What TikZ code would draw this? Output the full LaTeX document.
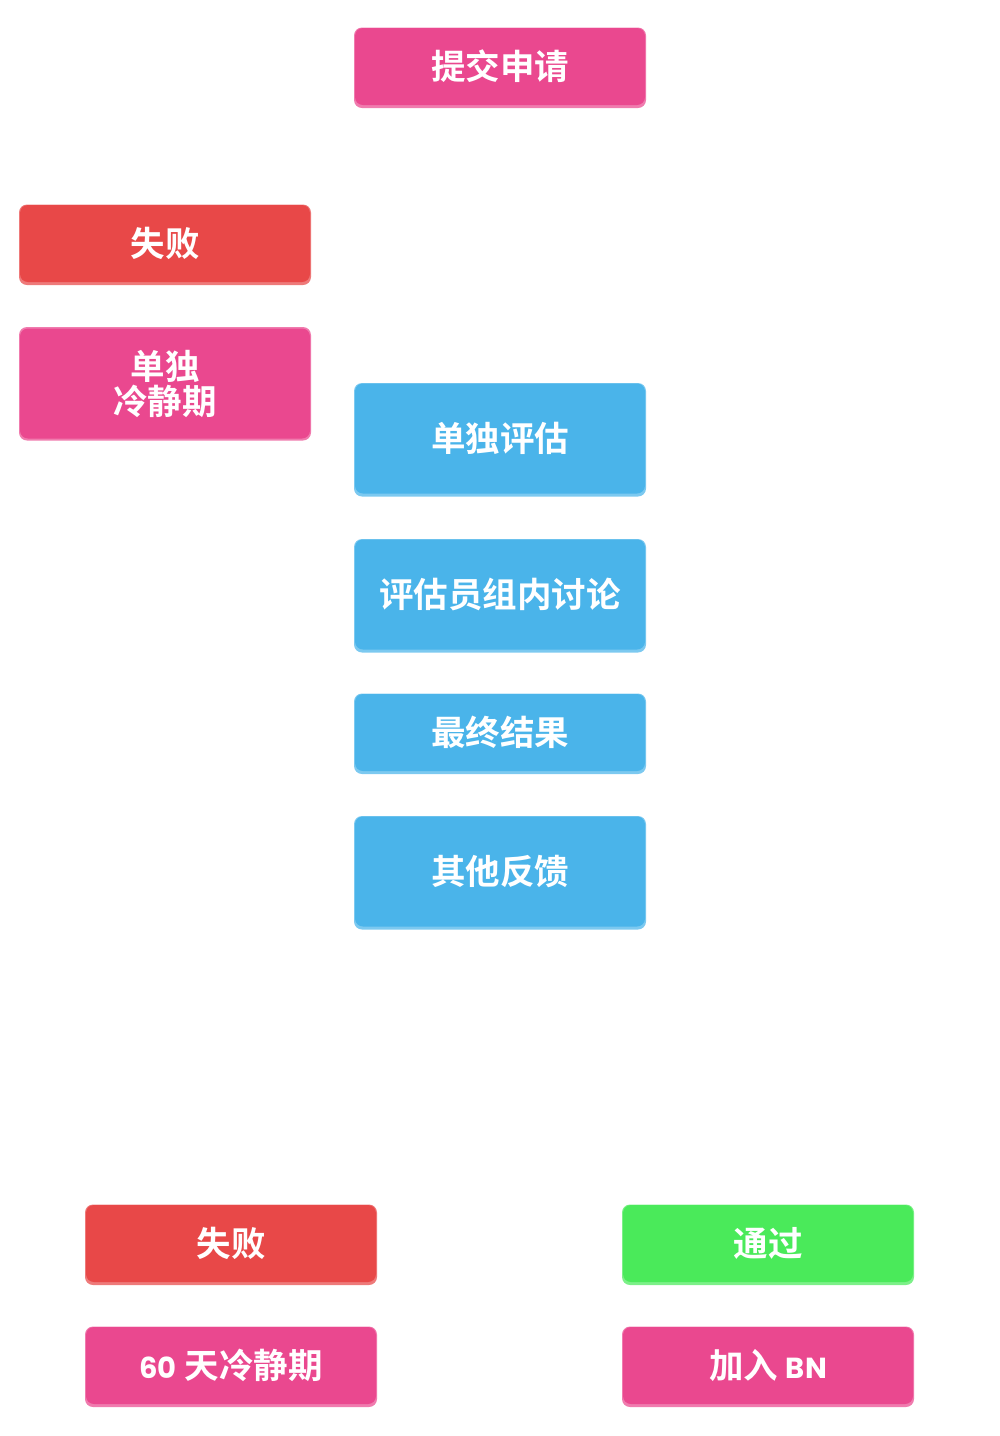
\documentclass[tikz,border=0pt]{standalone}
\usepackage{fontspec}
\setmainfont{Noto Sans CJK SC}[BoldFont=* Bold]
\newfontfamily\latfont{Poppins}[BoldFont=* Bold]
\definecolor{pinkc}{HTML}{EA488F}
\definecolor{pinkl}{HTML}{F07BAE}
\definecolor{redc}{HTML}{E84848}
\definecolor{redl}{HTML}{EE7A7A}
\definecolor{bluec}{HTML}{4AB4EA}
\definecolor{bluel}{HTML}{7CC9F0}
\definecolor{greenc}{HTML}{4AEA5A}
\definecolor{greenl}{HTML}{7CF088}
\newcommand{\lt}[1]{{\latfont\fontsize{29}{33}\selectfont #1}}
\tikzset{
  box/.style={rectangle, rounded corners=8pt, minimum width=290pt, text=white,
    font=\bfseries\fontsize{34.5}{35}\selectfont, align=center, inner sep=0pt},
  pinkbox/.style={box, fill=pinkc},
  redbox/.style={box, fill=redc},
  bluebox/.style={box, fill=bluec},
  greenbox/.style={box, fill=greenc},
  short/.style={minimum height=77pt},
  tall/.style={minimum height=110pt},
}
\begin{document}
\begin{tikzpicture}[x=1pt,y=-1pt]
\useasboundingbox (0,0) rectangle (1000,1436);
% lighter edge under each box
\foreach \cx/\cy/\h/\lc in {500/67/77/pinkl,165/244/77/redl,165/383/110/pinkl,500/439/110/bluel,500/595/110/bluel,500/733/77/bluel,500/872/110/bluel,231/1244/77/redl,231/1366/77/pinkl,768/1244/77/greenl,768/1366/77/pinkl}{
  \fill[\lc, rounded corners=8pt] (\cx-146,\cy-\h/2-1) rectangle (\cx+146,\cy+\h/2+2.5);
}
\node[pinkbox,short] (submit) at (500,66.5) {提交申请};
\node[redbox,short] (fail1) at (165,243.5) {失败};
\node[pinkbox,tall] (cool1) at (165,383.5) {单独\\冷静期};
\node[bluebox,tall] (eval) at (500,438.5) {单独评估};
\node[bluebox,tall] (discuss) at (500,594.5) {评估员组内讨论};
\node[bluebox,short] (result) at (500,732.5) {最终结果};
\node[bluebox,tall] (feedback) at (500,871.5) {其他反馈};
\node[redbox,short] (fail2) at (231,1243.5) {失败};
\node[pinkbox,short] (cool60) at (231,1365.5) {\lt{60} 天冷静期};
\node[greenbox,short] (pass) at (768,1243.5) {通过};
\node[pinkbox,short] (join) at (768,1365.5) {加入 \lt{BN}};
\end{tikzpicture}
\end{document}
